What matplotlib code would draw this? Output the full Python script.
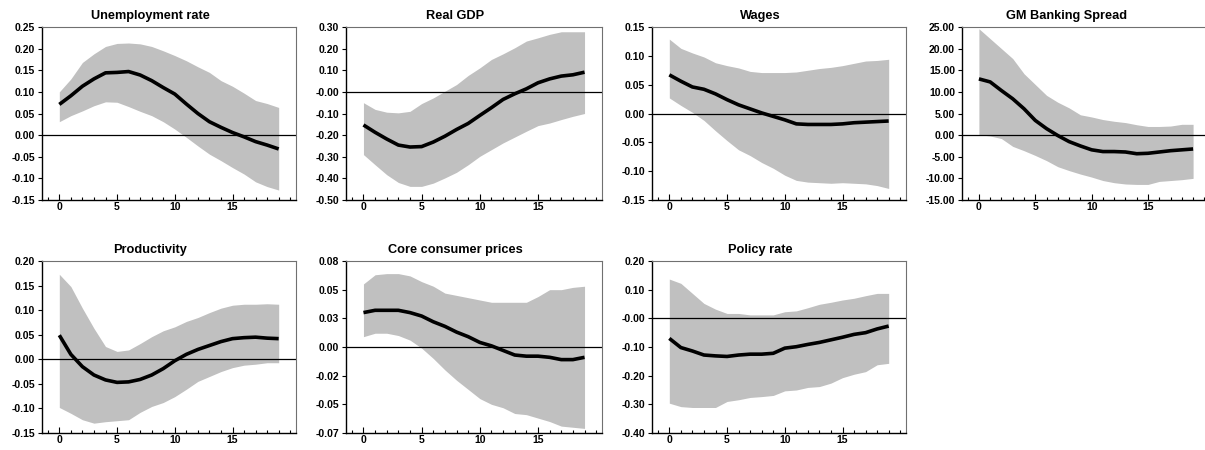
import numpy as np
import matplotlib
matplotlib.use("Agg")
import matplotlib.pyplot as plt
from matplotlib.ticker import MultipleLocator

plt.rcParams['font.family'] = ['Liberation Sans', 'DejaVu Sans']

# Horizon (quarters)
horizon = list(range(20))

# Median responses and 68% bands
titles = ["Unemployment rate", "Real GDP", "Wages", "GM Banking Spread",
          "Productivity", "Core consumer prices", "Policy rate"]

unemp_mid = [0.071, 0.091, 0.113, 0.130, 0.144, 0.145, 0.147, 0.139, 0.126, 0.110,
             0.095, 0.072, 0.050, 0.031, 0.018, 0.006, -0.004, -0.015, -0.023, -0.032]
unemp_hi = [0.100, 0.130, 0.168, 0.188, 0.205, 0.212, 0.213, 0.211, 0.205, 0.195,
            0.184, 0.172, 0.158, 0.145, 0.126, 0.113, 0.097, 0.080, 0.073, 0.064]
unemp_lo = [0.031, 0.045, 0.056, 0.068, 0.077, 0.076, 0.066, 0.055, 0.045, 0.031,
            0.014, -0.005, -0.025, -0.044, -0.059, -0.075, -0.090, -0.108, -0.119, -0.127]

gdp_mid = [-0.153, -0.187, -0.218, -0.246, -0.255, -0.253, -0.232, -0.205, -0.174, -0.146,
           -0.109, -0.073, -0.035, -0.009, 0.014, 0.042, 0.060, 0.073, 0.079, 0.091]
gdp_hi = [-0.050, -0.081, -0.094, -0.097, -0.090, -0.054, -0.028, 0.003, 0.034, 0.076,
          0.111, 0.150, 0.176, 0.204, 0.235, 0.250, 0.266, 0.278, 0.278, 0.278]
gdp_lo = [-0.290, -0.337, -0.383, -0.419, -0.437, -0.437, -0.422, -0.398, -0.372, -0.337,
          -0.298, -0.267, -0.236, -0.209, -0.182, -0.156, -0.144, -0.128, -0.113, -0.100]

wage_mid = [0.067, 0.056, 0.046, 0.042, 0.034, 0.024, 0.015, 0.008, 0.001, -0.005,
            -0.011, -0.018, -0.019, -0.019, -0.019, -0.018, -0.016, -0.015, -0.014, -0.013]
wage_hi = [0.129, 0.113, 0.105, 0.098, 0.088, 0.083, 0.079, 0.073, 0.071, 0.071,
           0.071, 0.072, 0.075, 0.078, 0.080, 0.083, 0.087, 0.091, 0.092, 0.094]
wage_lo = [0.027, 0.014, 0.002, -0.012, -0.030, -0.047, -0.063, -0.073, -0.085, -0.095,
           -0.107, -0.116, -0.119, -0.120, -0.121, -0.120, -0.121, -0.122, -0.125, -0.130]

spread_mid = [13.0, 12.3, 10.3, 8.4, 6.1, 3.4, 1.5, -0.1, -1.5, -2.5,
              -3.4, -3.8, -3.8, -3.9, -4.3, -4.2, -3.9, -3.6, -3.4, -3.2]
spread_hi = [24.6, 22.3, 20.0, 17.7, 14.2, 11.7, 9.2, 7.6, 6.3, 4.7,
             4.2, 3.6, 3.2, 2.9, 2.4, 2.0, 2.0, 2.1, 2.5, 2.5]
spread_lo = [0.1, -0.2, -0.8, -2.6, -3.6, -4.7, -5.9, -7.3, -8.2, -9.0,
             -9.7, -10.5, -11.0, -11.3, -11.4, -11.4, -10.7, -10.5, -10.3, -10.0]

prod_mid = [0.049, 0.010, -0.015, -0.032, -0.042, -0.047, -0.046, -0.041, -0.032, -0.019,
            -0.003, 0.010, 0.020, 0.028, 0.036, 0.042, 0.044, 0.045, 0.043, 0.042]
prod_hi = [0.173, 0.148, 0.104, 0.063, 0.026, 0.016, 0.019, 0.032, 0.046, 0.058,
           0.066, 0.077, 0.085, 0.095, 0.104, 0.110, 0.112, 0.112, 0.113, 0.112]
prod_lo = [-0.098, -0.110, -0.123, -0.130, -0.127, -0.125, -0.123, -0.108, -0.096, -0.088,
           -0.076, -0.061, -0.045, -0.035, -0.025, -0.017, -0.012, -0.010, -0.007, -0.007]

core_mid = [0.030, 0.032, 0.032, 0.032, 0.030, 0.027, 0.022, 0.018, 0.013, 0.009,
            0.004, 0.001, -0.003, -0.007, -0.008, -0.008, -0.009, -0.011, -0.011, -0.009]
core_hi = [0.055, 0.063, 0.064, 0.064, 0.062, 0.057, 0.053, 0.047, 0.045, 0.043,
           0.041, 0.039, 0.039, 0.039, 0.039, 0.044, 0.050, 0.050, 0.052, 0.053]
core_lo = [0.009, 0.012, 0.012, 0.010, 0.006, -0.001, -0.010, -0.020, -0.029, -0.037,
           -0.045, -0.050, -0.053, -0.058, -0.059, -0.062, -0.065, -0.069, -0.070, -0.071]

rate_mid = [-0.070, -0.102, -0.114, -0.128, -0.131, -0.133, -0.128, -0.125, -0.125, -0.122,
            -0.104, -0.099, -0.091, -0.084, -0.075, -0.066, -0.056, -0.050, -0.037, -0.027]
rate_hi = [0.137, 0.122, 0.087, 0.052, 0.032, 0.017, 0.017, 0.012, 0.012, 0.012,
           0.023, 0.026, 0.037, 0.049, 0.056, 0.064, 0.070, 0.079, 0.087, 0.087]
rate_lo = [-0.296, -0.308, -0.311, -0.311, -0.311, -0.290, -0.284, -0.276, -0.273, -0.269,
           -0.253, -0.250, -0.241, -0.238, -0.226, -0.207, -0.195, -0.186, -0.162, -0.157]

# y tick values and their printed labels
unemp_ticks = [0.25, 0.20, 0.15, 0.10, 0.05, 0.0, -0.05, -0.10, -0.15]
unemp_labels = ["0.25", "0.20", "0.15", "0.10", "0.05", "0.00", "-0.05", "-0.10", "-0.15"]
gdp_ticks = [0.3, 0.2, 0.1, 0.0, -0.1, -0.2, -0.3, -0.4, -0.5]
gdp_labels = ["0.30", "0.20", "0.10", "-0.00", "-0.10", "-0.20", "-0.30", "-0.40", "-0.50"]
wage_ticks = [0.15, 0.10, 0.05, 0.0, -0.05, -0.10, -0.15]
wage_labels = ["0.15", "0.10", "0.05", "0.00", "-0.05", "-0.10", "-0.15"]
spread_ticks = [25, 20, 15, 10, 5, 0, -5, -10, -15]
spread_labels = ["25.00", "20.00", "15.00", "10.00", "5.00", "0.00", "-5.00", "-10.00", "-15.00"]
prod_ticks = [0.20, 0.15, 0.10, 0.05, 0.0, -0.05, -0.10, -0.15]
prod_labels = ["0.20", "0.15", "0.10", "0.05", "0.00", "-0.05", "-0.10", "-0.15"]
core_ticks = [0.075, 0.05, 0.025, 0.0, -0.025, -0.05, -0.075]
core_labels = ["0.08", "0.05", "0.03", "0.00", "-0.02", "-0.05", "-0.07"]
rate_ticks = [0.2, 0.1, 0.0, -0.1, -0.2, -0.3, -0.4]
rate_labels = ["0.20", "0.10", "-0.00", "-0.10", "-0.20", "-0.30", "-0.40"]

panels = [
    (unemp_mid, unemp_lo, unemp_hi, unemp_ticks, unemp_labels),
    (gdp_mid, gdp_lo, gdp_hi, gdp_ticks, gdp_labels),
    (wage_mid, wage_lo, wage_hi, wage_ticks, wage_labels),
    (spread_mid, spread_lo, spread_hi, spread_ticks, spread_labels),
    (prod_mid, prod_lo, prod_hi, prod_ticks, prod_labels),
    (core_mid, core_lo, core_hi, core_ticks, core_labels),
    (rate_mid, rate_lo, rate_hi, rate_ticks, rate_labels),
]

W, H = 1205, 450
fig = plt.figure(figsize=(W / 100, H / 100), dpi=100)

# panel boxes in pixels: left, top, right, bottom
boxes = [
    (42, 27, 296, 200), (346, 27, 602, 200), (652, 27, 906, 200), (962, 27, 1210, 200),
    (42, 261, 296, 433), (346, 261, 602, 433), (652, 261, 906, 433),
]

for (mid, lo, hi, ticks, labels), title, (l, t, r, b) in zip(panels, titles, boxes):
    ax = fig.add_axes([l / W, (H - b) / H, (r - l) / W, (b - t) / H])
    ax.fill_between(horizon, lo, hi, color="#c0c0c0", linewidth=0)
    ax.axhline(0, color="black", lw=0.9)
    ax.plot(horizon, mid, color="black", lw=2.6, solid_capstyle="butt")
    ax.set_xlim(-1.5, 20.5)
    ax.set_ylim(min(ticks), max(ticks))
    ax.set_yticks(ticks)
    ax.set_yticklabels(labels)
    ax.xaxis.set_major_locator(MultipleLocator(5))
    ax.xaxis.set_minor_locator(MultipleLocator(1))
    ax.set_xticks([0, 5, 10, 15])
    ax.tick_params(axis="x", which="major", direction="in", length=4, width=0.8, pad=1.5)
    ax.tick_params(axis="x", which="minor", direction="in", length=2.5, width=0.8)
    ax.tick_params(axis="y", direction="out", length=3, width=0.8, pad=2)
    for lab in ax.get_xticklabels() + ax.get_yticklabels():
        lab.set_fontsize(7.5)
        lab.set_fontweight("bold")
    for side in ["left", "bottom"]:
        ax.spines[side].set_color("black")
        ax.spines[side].set_linewidth(1.0)
    for side in ["top", "right"]:
        ax.spines[side].set_color("#707070")
        ax.spines[side].set_linewidth(0.8)
    # titles sit a little left of the plot box centre
    ax.set_title(title, fontsize=9.2, fontweight="bold", pad=6, x=0.5 - 19 / (r - l))

fig.savefig("out.png", dpi=100)
